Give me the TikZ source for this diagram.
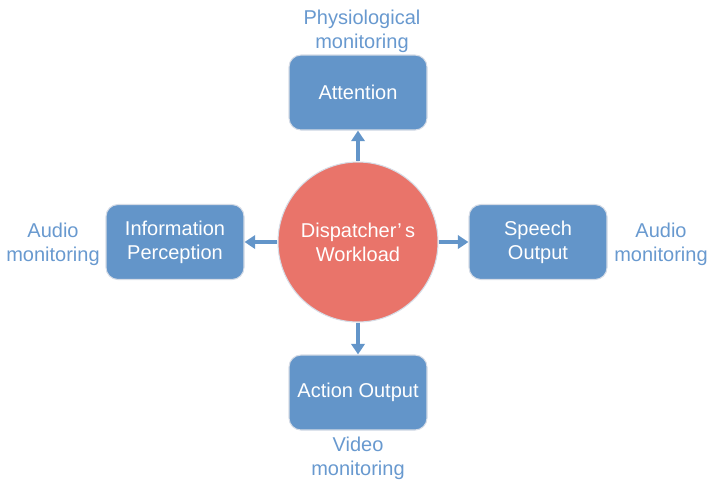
\documentclass[tikz,border=0pt]{standalone}
\usepackage{fontspec}
\setmainfont{Liberation Sans}
\usetikzlibrary{arrows.meta}
\usetikzlibrary{shapes}
\tikzset{>={Triangle[width=10pt,length=8pt]}}
\definecolor{boxblue}{RGB}{99,149,201}
\definecolor{loadred}{RGB}{233,116,106}
\definecolor{labelblue}{RGB}{104,153,207}
\definecolor{boxedge}{RGB}{214,220,230}

\begin{document}
\begin{tikzpicture}[x=0.75pt, y=-0.75pt,
        font=\fontsize{15}{18}\selectfont,
        task/.style={rectangle, rounded corners=9pt, fill=boxblue, draw=boxedge,
            line width=0.8pt, text=white, align=center,
            minimum width=103.5pt, minimum height=56.25pt},
        load/.style={circle, fill=loadred, draw=boxedge, line width=0.8pt,
            text=white, align=center, minimum size=120pt},
        sensor/.style={text=labelblue, align=center},
        feed/.style={->, draw=boxblue, line width=3pt}]
            \useasboundingbox (0, 0) rectangle (707, 480);
            % workload in the middle, the four task boxes round it
            \node[load] (workload) at (358, 242) {Dispatcher’\,s\\Workload};
            \node[task] (attention) at (358, 92.5) {Attention};
            \node[task] (perception) at (175, 242) {Information\\Perception};
            \node[task] (speech) at (538, 242) {Speech\\Output};
            \node[task] (action) at (358, 392.5) {Action Output};
            % how each task is monitored
            \node[sensor] (physio) at (362, 31) {Physiological\\monitoring};
            \node[sensor] (audioleft) at (53, 244) {Audio\\monitoring};
            \node[sensor] (audioright) at (661, 244) {Audio\\monitoring};
            \node[sensor] (video) at (358, 458) {Video\\monitoring};
            \draw[feed] (workload) -- (attention);
            \draw[feed] (workload) -- (perception);
            \draw[feed] (workload) -- (speech);
            \draw[feed] (workload) -- (action);
        \end{tikzpicture}
\end{document}
